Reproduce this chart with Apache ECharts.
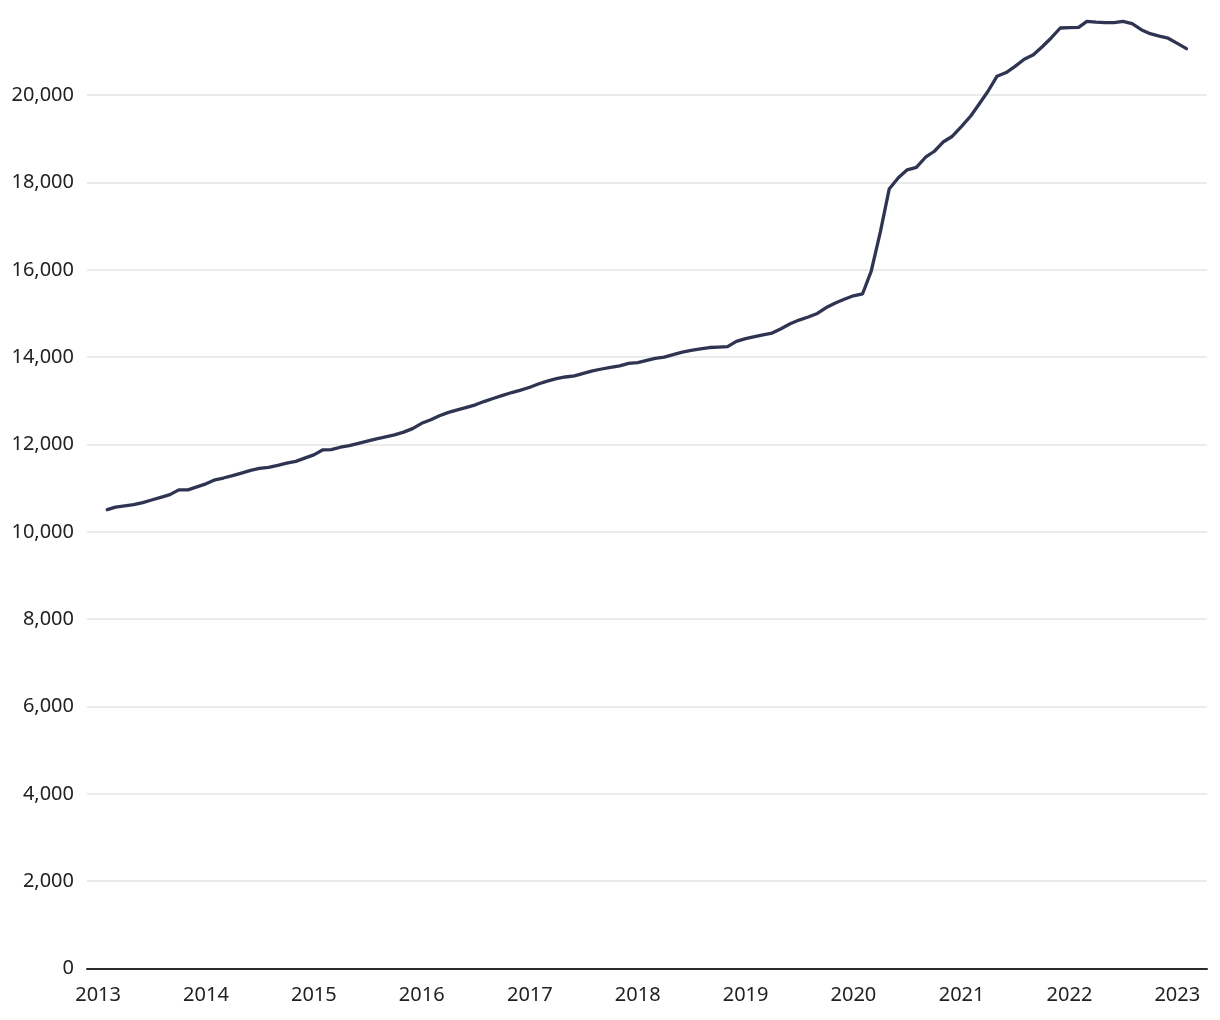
<!DOCTYPE html>
<html>
<head>
<meta charset="utf-8">
<script src="https://cdn.jsdelivr.net/npm/echarts@6/dist/echarts.min.js"></script>
<style>
  html, body { margin: 0; padding: 0; background: #ffffff; }
  #chart { width: 1220px; height: 1020px; }
</style>
</head>
<body>
<div id="chart"></div>
<script>
// Monthly values, first point = February 2013, last point = February 2023
const startYear = 2013;
const startMonthIndex = 1; // February (0-based)
const m2Values = [
  10509, 10568, 10596, 10623, 10671, 10729, 10788, 10852, 10962, 10962, 11031,          // 2013 Feb-Dec
  11100, 11192, 11233, 11288, 11347, 11409, 11453, 11478, 11524, 11576, 11615, 11688,   // 2014
  11764, 11879, 11883, 11938, 11977, 12028, 12078, 12131, 12176, 12222, 12284, 12365,   // 2015
  12486, 12566, 12658, 12736, 12795, 12853, 12910, 12990, 13059, 13127, 13191, 13246,   // 2016
  13311, 13391, 13453, 13508, 13547, 13574, 13631, 13689, 13730, 13769, 13803, 13858,   // 2017
  13876, 13929, 13975, 14003, 14060, 14115, 14156, 14193, 14222, 14231, 14243, 14362,   // 2018
  14426, 14472, 14514, 14552, 14651, 14765, 14850, 14921, 15003, 15137, 15242, 15329,   // 2019
  15407, 15453, 15964, 16864, 17851, 18110, 18291, 18346, 18580, 18717, 18935, 19061,   // 2020
  19286, 19524, 19794, 20097, 20436, 20520, 20660, 20823, 20928, 21111, 21317, 21540,   // 2021
  21546, 21553, 21691, 21673, 21661, 21661, 21691, 21638, 21500, 21409, 21352, 21306,   // 2022
  21187, 21066                                                                         // 2023 Jan-Feb
];
const yearTicks = [2013, 2014, 2015, 2016, 2017, 2018, 2019, 2020, 2021, 2022, 2023];
const yTickLabels = [0, 2000, 4000, 6000, 8000, 10000, 12000, 14000, 16000, 18000, 20000];

const DAY = 86400000;
const seriesData = m2Values.map((v, i) => [Date.UTC(startYear, startMonthIndex + i, 1), v]);
const yearTickValues = yearTicks.map(y => Date.UTC(y, 0, 1));

const FONT = '"Noto Sans", "Open Sans", sans-serif';
const chart = echarts.init(document.getElementById('chart'), null, { renderer: 'canvas' });

chart.setOption({
  animation: false,
  backgroundColor: '#ffffff',
  grid: { left: 87, right: 13, top: 21, bottom: 51.5, containLabel: false },
  xAxis: {
    type: 'value',
    min: Date.UTC(2013, 0, 1) - 37.6 * DAY,
    max: Date.UTC(2023, 0, 1) + 100.5 * DAY,
    axisLine: { show: true, lineStyle: { color: '#2b2b2b', width: 2 } },
    axisTick: { show: false, customValues: yearTickValues },
    splitLine: { show: false },
    axisLabel: {
      customValues: yearTickValues,
      formatter: v => String(new Date(v).getUTCFullYear()),
      color: '#222222',
      fontFamily: FONT,
      fontSize: 20,
      margin: 17
    }
  },
  yAxis: {
    type: 'value',
    min: 0,
    max: 21700,
    interval: 2000,
    axisLine: { show: false },
    axisTick: { show: false },
    splitLine: { show: true, showMaxLine: false, lineStyle: { color: '#e4e4e4', width: 1.5 } },
    axisLabel: {
      showMaxLabel: false,
      formatter: v => (yTickLabels.indexOf(v) >= 0 ? v.toLocaleString('en-US') : ''),
      color: '#222222',
      fontFamily: FONT,
      fontSize: 20,
      margin: 13
    }
  },
  series: [{
    type: 'line',
    data: seriesData,
    showSymbol: false,
    symbol: 'none',
    clip: false,
    lineStyle: { color: '#2f3452', width: 3.3, join: 'round', cap: 'round' }
  }]
});
</script>
</body>
</html>
